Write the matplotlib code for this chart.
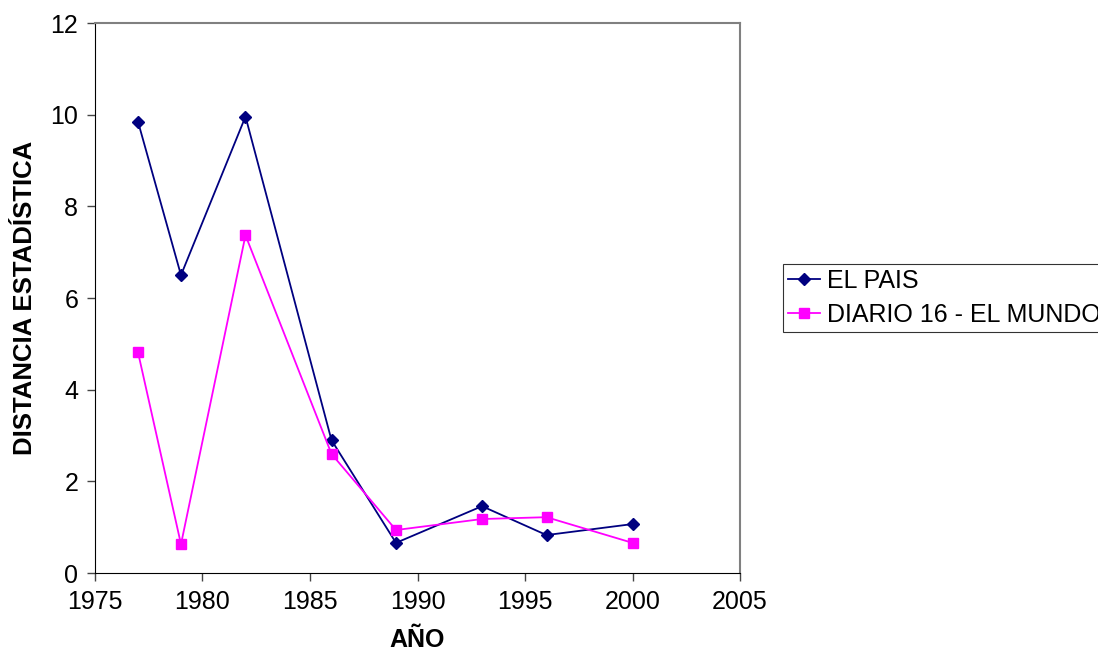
import matplotlib.pyplot as plt

plt.rcParams['font.family'] = ['Liberation Sans', 'DejaVu Sans']

# Datos
anios = [1977, 1979, 1982, 1986, 1989, 1993, 1996, 2000]
el_pais = [9.85, 6.50, 9.96, 2.90, 0.66, 1.46, 0.83, 1.07]
diario16 = [4.82, 0.63, 7.37, 2.60, 0.94, 1.18, 1.22, 0.66]

fig = plt.figure(figsize=(10.98, 6.58), dpi=100)
ax = fig.add_axes([0.0865, 0.129, 0.5875, 0.836])

ax.plot(anios, el_pais, color='#000080', marker='D', markersize=6, linewidth=1.3, label='EL PAIS')
ax.plot(anios, diario16, color='#FF00FF', marker='s', markersize=7, linewidth=1.3, label='DIARIO 16 - EL MUNDO')

ax.set_xlim(1975, 2005)
ax.set_ylim(0, 12)
ax.set_xticks(range(1975, 2006, 5))
ax.set_yticks(range(0, 13, 2))
ax.spines['top'].set_color('#808080')
ax.spines['right'].set_color('#808080')
ax.spines['top'].set_linewidth(1.5)
ax.spines['right'].set_linewidth(1.5)
ax.tick_params(labelsize=18, length=6, width=1, color='#444444', pad=6)
ax.set_xlabel('AÑO', fontsize=18, fontweight='bold', labelpad=10)
ax.set_ylabel('DISTANCIA ESTADÍSTICA', fontsize=18.5, fontweight='bold', labelpad=10)

leg = fig.legend(loc='upper left', bbox_to_anchor=(0.713, 0.599), fontsize=18,
                 frameon=True, fancybox=False, edgecolor='black', borderpad=0.2,
                 handlelength=1.3, handletextpad=0.25, labelspacing=0.4, borderaxespad=0)
leg.get_frame().set_linewidth(0.8)

fig.savefig('out.png', dpi=100)
